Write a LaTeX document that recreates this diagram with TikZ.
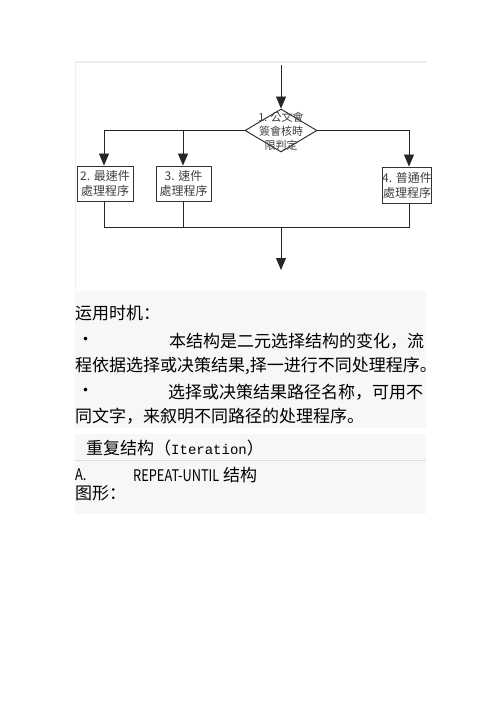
\documentclass[tikz,border=0pt]{standalone}
\usepackage{fontspec}
\usepackage{graphicx}
\usetikzlibrary{arrows.meta,shapes.geometric}
\setmainfont{Liberation Serif}
\newfontfamily\cjksc{Noto Sans CJK SC}
\newfontfamily\cjktc{Noto Sans CJK TC}
\newfontfamily\monof{Liberation Mono}
\definecolor{panel}{HTML}{F7F7F7}
\definecolor{rule}{HTML}{DDDDDD}
\tikzset{
  flow/.style={draw=black!85, line width=0.9pt},
  arr/.style={flow, -{Triangle[width=10pt,length=12pt]}},
  box/.style={draw=black!80, line width=0.9pt, fill=white, inner sep=0pt, font=\cjktc\fontsize{12}{15}\selectfont, text=black!75, align=center},
  txt/.style={anchor=west, inner sep=0pt, font=\cjksc\fontsize{17}{20}\selectfont},
}
\begin{document}
\begin{tikzpicture}[x=1pt,y=-1pt]
\useasboundingbox (0,0) rectangle (500,708);
% frames and panels
\draw[rule!60, line width=2.5pt] (75,62) -- (426,62);
\draw[rule!50, line width=0.6pt] (75,63) -- (75,290);
\fill[panel] (75,291) rectangle (426,428);
\fill[panel] (75,434) rectangle (426,460);
\draw[rule, line width=1pt] (75,460) -- (426,460);
\fill[panel] (75,461) rectangle (426,514);
% flowchart
\coordinate (top) at (281,65);
\node[diamond, flow, fill=white, minimum width=72pt, minimum height=43pt, inner sep=0pt] (d) at (281,130.5) {};
\node[align=center, inner sep=0pt, font=\cjktc\fontsize{11}{14}\selectfont, text=black!75] (dt) at (281,131) {1. 公文會\\簽會核時\\限判定};
\node[box, minimum width=56pt, minimum height=35pt] (b2) at (105,183.5) {2. 最速件\\處理程序};
\node[box, minimum width=55pt, minimum height=35pt] (b3) at (183.5,183.5) {3. 速件\\處理程序};
\node[box, minimum width=48pt, minimum height=36pt] (b4) at (407,185) {4. 普通件\\處理程序};
\coordinate (j2) at (104,227);
\coordinate (j3) at (183,227);
\coordinate (j4) at (409,227);
\coordinate (jm) at (281,227);
\coordinate (out) at (281,270);
\draw[arr] (top) -- (d.north);
\draw[arr] (d.west) -| (b2.north -| j2);
\draw[arr] (d.west -| j3) -- (b3.north -| j3);
\draw[arr] (d.east) -| (b4.north -| j4);
\draw[flow] (b2.south -| j2) -- (j2) -- (j4) -- (b4.south -| j4);
\draw[flow] (b3.south -| j3) -- (j3);
\draw[arr] (jm) -- (out);
% text
\node[txt] (t1) at (75,313) {运用时机：};
\node[txt] (bl1) at (77,341) {•};
\node[txt] (t2) at (169,341) {本结构是二元选择结构的变化，流};
\node[txt] (t3) at (75,366) {程依据选择或决策结果,择一进行不同处理程序。};
\node[txt] (bl2) at (77,392) {•};
\node[txt] (t4) at (168,392) {选择或决策结果路径名称，可用不};
\node[txt] (t5) at (75,416) {同文字，来叙明不同路径的处理程序。};
\node[txt] (t6) at (86,448) {重复结构（{\monof\fontsize{14}{17}\selectfont Iteration}）};
\node[txt] (t7) at (75,475) {{\fontsize{16}{18}\selectfont\scalebox{0.8}[1]{A.}}};
\node[txt] (t8) at (133,475) {{\fontsize{16}{18}\selectfont\scalebox{0.8}[1]{REPEAT-UNTIL}} 结构};
\node[txt] (t9) at (75,493) {图形：};
\end{tikzpicture}
\end{document}
